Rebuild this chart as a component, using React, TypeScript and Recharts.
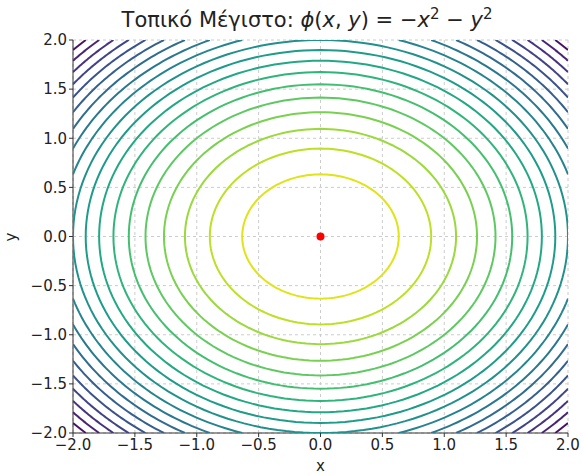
import React from 'react';
import { ScatterChart, Scatter, XAxis, YAxis, CartesianGrid } from 'recharts';

// contour levels of phi(x, y) = -x^2 - y^2 (step 0.4, as matplotlib picked them)
const LEVELS = [-0.4, -0.8, -1.2, -1.6, -2.0, -2.4, -2.8, -3.2, -3.6, -4.0, -4.4, -4.8, -5.2, -5.6, -6.0, -6.4, -6.8, -7.2, -7.6];
const X_TICKS = [-2, -1.5, -1, -0.5, 0, 0.5, 1, 1.5, 2];
const Y_TICKS = [-2, -1.5, -1, -0.5, 0, 0.5, 1, 1.5, 2];
const MAXIMUM = [{ x: 0, y: 0 }];

// viridis, one colour per level above
const LEVEL_COLORS = [
    '#dfe318', '#bddf26', '#9bd93c', '#7ad151', '#5ec962', '#44bf70', '#2fb47c', '#22a884', '#1e9c89', '#21918c',
    '#25848e', '#2a788e', '#2f6c8e', '#355f8d', '#3b528b', '#414487', '#463480', '#482475', '#471365',
];

const LIMIT = 2;

// the level set phi = level is the circle of radius sqrt(-level), kept inside the [-2, 2] box
function contourSegments(level: number) {
    const r = Math.sqrt(-level);
    const segs: { x: number; y: number }[][] = [];
    if (r <= LIMIT) {
        const pts = [];
        for (let i = 0; i <= 180; i++) {
            const t = (i / 180) * Math.PI * 2;
            pts.push({ x: r * Math.cos(t), y: r * Math.sin(t) });
        }
        segs.push(pts);
        return segs;
    }
    const a0 = Math.acos(LIMIT / r);
    const a1 = Math.asin(LIMIT / r);
    for (let q = 0; q < 4; q++) {
        const pts = [];
        for (let i = 0; i <= 40; i++) {
            const t = q * (Math.PI / 2) + a0 + ((a1 - a0) * i) / 40;
            pts.push({ x: r * Math.cos(t), y: r * Math.sin(t) });
        }
        segs.push(pts);
    }
    return segs;
}

const fmt = (v: number) => (v < 0 ? '\u2212' : '') + Math.abs(v).toFixed(1);
const font = '"DejaVu Sans", sans-serif';

export default function App() {
    const lines: { data: { x: number; y: number }[]; color: string; key: string }[] = [];
    LEVELS.forEach((lv, i) => {
        contourSegments(lv).forEach((seg, j) => {
            lines.push({ data: seg, color: LEVEL_COLORS[i], key: `c${i}-${j}` });
        });
    });

    return (
        <div style={{ position: 'relative', width: 583, height: 476, fontFamily: font, color: '#222' }}>
            <style>{`body{margin:0}`}</style>
            <div
                style={{
                    position: 'absolute',
                    top: 5,
                    left: 0,
                    width: 614,
                    textAlign: 'center',
                    fontSize: 21,
                    whiteSpace: 'nowrap',
                }}
            >
                Τοπικό Μέγιστο: <i>ϕ</i>(<i>x</i>, <i>y</i>) = −<i>x</i>
                <sup style={{ fontSize: 15 }}>2</sup> − <i>y</i>
                <sup style={{ fontSize: 15 }}>2</sup>
            </div>
            <div style={{ position: 'absolute', top: 457, left: 316, fontSize: 15 }}>x</div>
            <div
                style={{
                    position: 'absolute',
                    top: 228,
                    left: 7,
                    fontSize: 15,
                    transform: 'rotate(-90deg)',
                }}
            >
                y
            </div>
            <ScatterChart
                width={583}
                height={476}
                margin={{ top: 40, right: 15, bottom: 18, left: 0 }}
                style={{ position: 'absolute', top: 0, left: 0 }}
            >
                <CartesianGrid stroke="#cccccc" strokeDasharray="3 3" />
                <XAxis
                    type="number"
                    dataKey="x"
                    domain={[-2, 2]}
                    ticks={X_TICKS}
                    allowDataOverflow
                    tickFormatter={fmt}
                    height={25}
                    tickSize={4}
                    tickMargin={2}
                    stroke="#333"
                    tick={{ fontSize: 15, fill: '#222', fontFamily: font }}
                />
                <YAxis
                    type="number"
                    dataKey="y"
                    domain={[-2, 2]}
                    ticks={Y_TICKS}
                    allowDataOverflow
                    tickFormatter={fmt}
                    width={73}
                    tickSize={4}
                    tickMargin={2}
                    stroke="#333"
                    tick={{ fontSize: 15, fill: '#222', fontFamily: font }}
                />
                {lines.map((l) => (
                    <Scatter
                        key={l.key}
                        data={l.data}
                        line={{ stroke: l.color, strokeWidth: 2 }}
                        lineType="joint"
                        shape={() => <g />}
                        fill="none"
                        isAnimationActive={false}
                    />
                ))}
                <Scatter
                    data={MAXIMUM}
                    fill="#ff0000"
                    shape={(p: any) => <circle cx={p.cx} cy={p.cy} r={4} fill="#ff0000" />}
                    isAnimationActive={false}
                />
            </ScatterChart>
        </div>
    );
}
